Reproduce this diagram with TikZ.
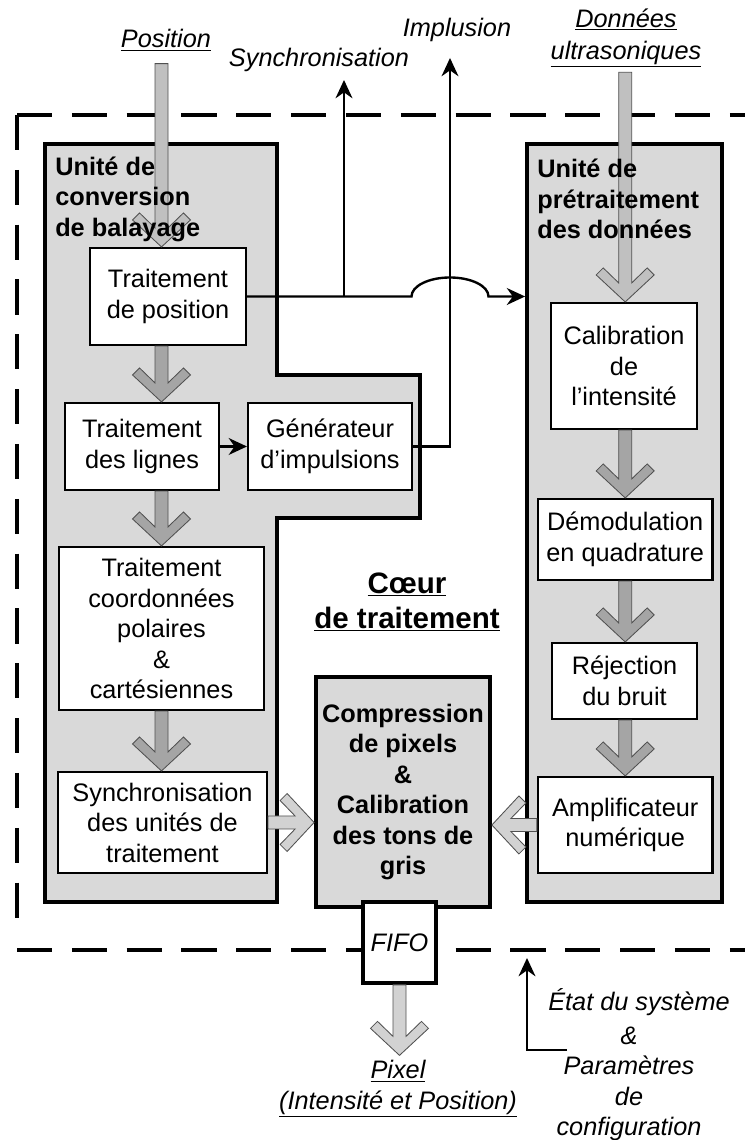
\documentclass[tikz,border=0pt]{standalone}
\usepackage{fontspec}
\setmainfont{Liberation Sans}
\usetikzlibrary{arrows.meta,calc}

\newcommand{\diagfont}{\fontsize{18}{21.7}\selectfont}

% fat grey arrow from #2 to #3 (tip at #3)
\newcommand{\fatarrow}[3][fatmid]{%
  \draw[fatline,fill=#1] let \p1=#2, \p2=#3,
      \n1={atan2(\y2-\y1,\x2-\x1)}, \n2={veclen(\x2-\x1,\y2-\y1)} in
    [shift={(\p2)},rotate=\n1]
    (0,0) -- (-0.675cm,0.725cm) -- (-0.85cm,0.55cm) -- (-0.475cm,0.1625cm)
    -- (-\n2,0.1625cm) -- (-\n2,-0.1625cm) -- (-0.475cm,-0.1625cm)
    -- (-0.85cm,-0.55cm) -- (-0.675cm,-0.725cm) -- cycle;}

\begin{document}
\begin{tikzpicture}[line join=miter,
  box/.style={draw,line width=1.5pt,fill=white,inner sep=0pt,align=center,font=\diagfont},
  unitbox/.style={draw,line width=2.7pt,fill=unitgray},
  blocktitle/.style={anchor=west,inner sep=0pt,align=left,font=\diagfont\bfseries},
  tag/.style={align=center,font=\diagfont\itshape},
  link/.style={line width=1.7pt},
  tip/.style={-{Stealth[length=13pt,width=12pt]}},
  fatline/.style={draw=fatedge,line width=0.6pt},
  corebound/.style={line width=3pt,dash pattern=on 25pt off 14pt}]
  \definecolor{unitgray}{RGB}{217,217,217}
  \definecolor{fatmid}{RGB}{165,165,165}
  \definecolor{fatsoft}{RGB}{192,192,192}
  \definecolor{fatpale}{RGB}{210,210,210}
  \definecolor{fatedge}{RGB}{80,80,80}

  \useasboundingbox (0,0) rectangle (18.625,28.5);

  % processing core boundary
  \draw[corebound] (0.425,25.625) -- (18.625,25.625);
  \draw[corebound] (0.425,25.625) -- (0.425,5.2);
  \draw[corebound] (0.425,4.75) -- (18.625,4.75);

  % scan conversion unit
  \draw[unitbox] (1.125,24.9) -- (6.925,24.9) -- (6.925,19.125) -- (10.5,19.125)
    -- (10.5,15.55) -- (6.925,15.55) -- (6.925,5.95) -- (1.125,5.95) -- cycle;
  \node[box,minimum width=3.9cm,minimum height=2.425cm] (pos) at (4.2,21.0875) {Traitement\\de position};
  \node[box,minimum width=3.86cm,minimum height=2.175cm] (lin) at (3.55,17.3375) {Traitement\\des lignes};
  \node[box,minimum width=4.1cm,minimum height=2.175cm] (gen) at (8.25,17.3375) {Générateur\\d’impulsions};
  \node[box,minimum width=5.125cm,minimum height=4.075cm] (coord) at (4.0375,12.7875)
    {Traitement\\coordonnées\\polaires\\\&\\cartésiennes};
  \node[box,minimum width=5.225cm,minimum height=2.525cm] (sync) at (4.0625,7.9375)
    {Synchronisation\\des unités de\\traitement};

  % data preprocessing unit
  \node[unitbox,minimum width=4.875cm,minimum height=18.95cm] (pre) at (15.6125,15.425) {};
  \node[box,minimum width=3.65cm,minimum height=3.15cm] (cal) at (15.6,19.35) {Calibration\\de\\l’intensité};
  \node[box,minimum width=4.365cm,minimum height=2.025cm] (demod) at (15.63,15.0125) {Démodulation\\en quadrature};
  \node[box,minimum width=3.625cm,minimum height=1.9cm] (rej) at (15.6125,11.475) {Réjection\\du bruit};
  \node[box,minimum width=4.365cm,minimum height=2.4cm] (amp) at (15.63,7.875) {Amplificateur\\numérique};

  % compression block
  \node[unitbox,minimum width=4.35cm,minimum height=5.75cm,align=center,inner sep=0pt,
    font=\diagfont\bfseries] (core) at (10.075,8.7)
    {Compression\\de pixels\\\&\\Calibration\\des tons de\\gris};

  % outside labels
  \node[tag] (position) at (4.15,27.5) {\underline{Position}};
  \node[tag] (synchro) at (7.975,27.0) {Synchronisation};
  \node[tag] (implusion) at (11.425,27.75) {Implusion};
  \node[tag] (donnees) at (15.65,27.55) {\underline{Données}\\[1pt]\underline{ultrasoniques}};
  \node[tag] (pixel) at (9.95,1.28) {\underline{Pixel}\\\underline{(Intensité et Position)}};
  \node[tag] (etat) at (15.975,3.45) {État du système};
  \node[tag] (param) at (15.725,1.4) {\&\\Paramètres\\de\\configuration};
  \node[align=center,font=\fontsize{21}{25}\selectfont\bfseries] (coeur) at (10.175,13.45)
    {\underline{Cœur}\\\underline{de traitement}};

  \coordinate (synctip) at (8.6,26.5);
  \coordinate (imptip) at (11.25,27.05);
  \coordinate (etattip) at (13.175,4.55);
  \coordinate (etatfoot) at (14.175,2.25);

  % signal lines
  \draw[link,tip] (pos.east) -- ($(pos.east -| imptip)+(-0.9625,0)$)
    arc[start angle=180,end angle=0,x radius=0.9625,y radius=0.475] -- (pos.east -| pre.west);
  \draw[link,tip] (pos.east -| synctip) -- (synctip);
  \draw[link,tip] (lin.east) -- (gen.west);
  \draw[link,tip] (gen.east) -| (imptip);
  \draw[link,tip] (etatfoot) -| (etattip);

  % data flow
  \fatarrow[fatsoft]{($(position.south -| coord.north)+(0,-0.2)$)}{(pos.north -| coord.north)}
  \fatarrow{(pos.south -| coord.north)}{(lin.north -| coord.north)}
  \fatarrow{(lin.south -| coord.north)}{(coord.north)}
  \fatarrow{(coord.south)}{(sync.north -| coord.south)}
  \fatarrow[fatpale]{(sync.east)}{(sync.east -| core.west)}
  \fatarrow[fatsoft]{(donnees.south -| demod.north)}{(cal.north -| demod.north)}
  \fatarrow{(cal.south -| demod.north)}{(demod.north)}
  \fatarrow{(demod.south)}{(rej.north -| demod.south)}
  \fatarrow{(rej.south -| amp.north)}{(amp.north)}
  \fatarrow[fatpale]{(amp.west)}{(amp.west -| core.east)}

  % unit titles
  \node[blocktitle] (convtitle) at (1.375,23.52) {Unité de\\conversion\\de balayage};
  \node[blocktitle] (pretitle) at (13.425,23.52) {Unité de\\prétraitement\\des données};

  % output buffer
  \node[box,line width=2.7pt,minimum width=1.825cm,minimum height=2.025cm,font=\diagfont\itshape]
    (fifo) at (9.9875,4.9375) {FIFO};
  \fatarrow[fatpale]{(fifo.south)}{(pixel.north -| fifo.south)}
\end{tikzpicture}
\end{document}
